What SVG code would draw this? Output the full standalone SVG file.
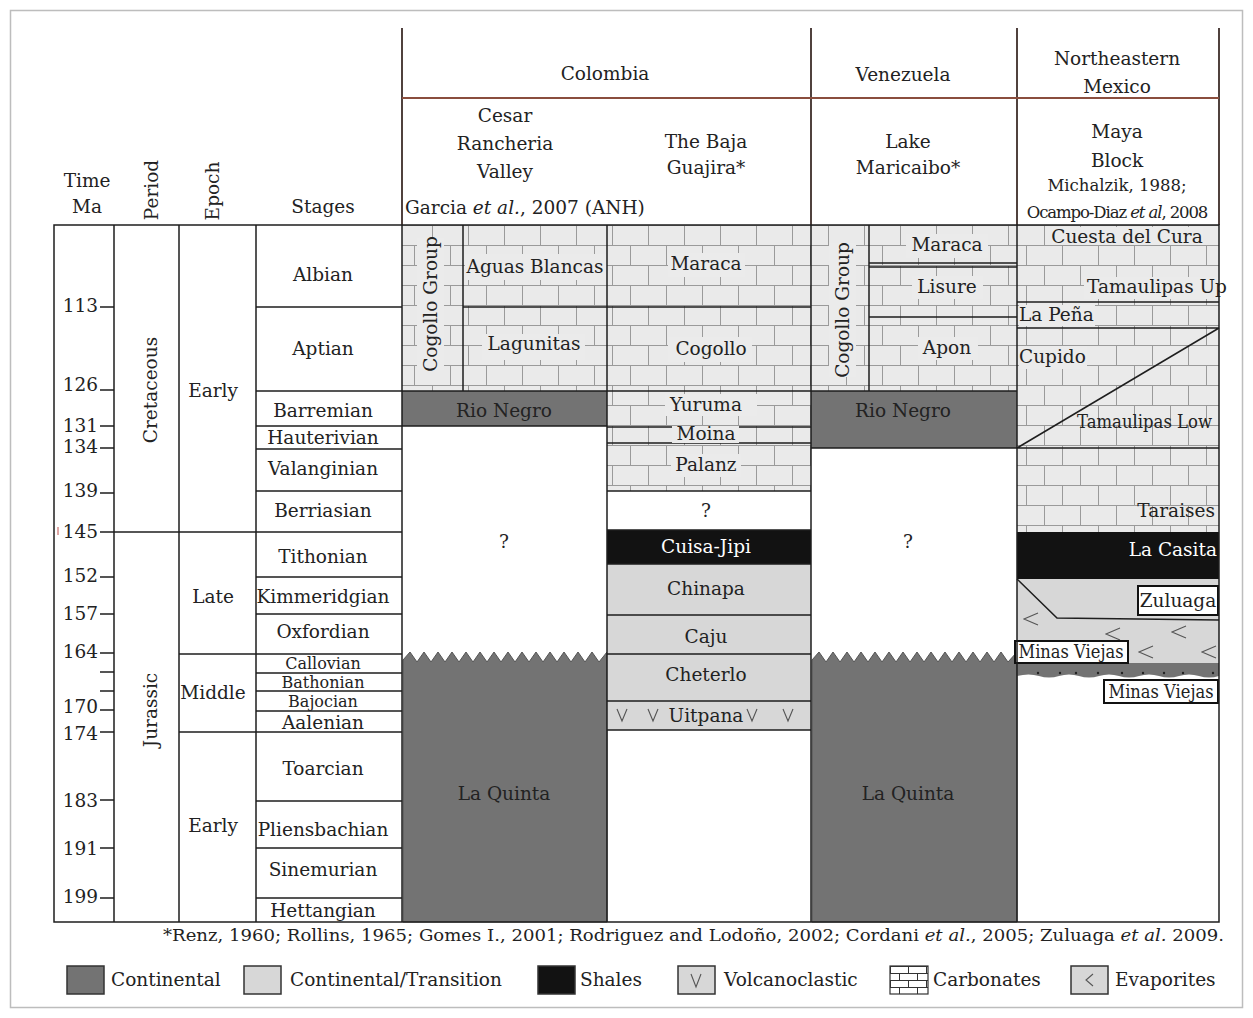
<svg xmlns="http://www.w3.org/2000/svg" width="1253" height="1018" viewBox="0 0 1253 1018">
<style>
text{font-family:"DejaVu Serif","Liberation Serif",serif;font-size:18.5px;fill:#222;text-anchor:middle}
.s{text-anchor:start}
.e{text-anchor:end}
.w{fill:#fff}
.it{font-style:italic}
.sm{font-size:16.5px}
.xs{font-size:16px}
.ln{stroke:#1e1e1e;stroke-width:1.5;fill:none}
.hd{stroke:#3e2e2a;stroke-width:1.8;fill:none}
.hh{stroke:#8a4e3e;stroke-width:2;fill:none}
.cont{fill:#737373}
.trans{fill:#d7d7d7}
.shale{fill:#121212}
.carb{fill:url(#carb)}
.lb{fill:#ebebeb}
.sym{stroke:#555;stroke-width:1.1;fill:none}
.box{fill:#fff;stroke:#111;stroke-width:2}
.lg{stroke:#333;stroke-width:1.5}
</style>
<defs>
<pattern id="carb" patternUnits="userSpaceOnUse" x="0" y="225" width="36" height="40">
<rect width="36" height="40" fill="#eaeaea"/>
<path d="M0 0.5H36M0 20.5H36M0.5 0V20M18.5 20V40" stroke="#9a9a9a" stroke-width="1"/>
</pattern>
<pattern id="carbs" patternUnits="userSpaceOnUse" x="890" y="966" width="18" height="14">
<rect width="18" height="14" fill="#fff"/>
<path d="M0 0.5H18M0 7.5H18M0.5 0V7M9.5 7V14" stroke="#333" stroke-width="1"/>
</pattern>
</defs>
<rect x="10.5" y="10.5" width="1232" height="997" fill="#fff" stroke="#bdbdbd" stroke-width="1.5"/>

<g id="header">
<path class="hd" d="M402 28V225M811 28V225M1017 28V225M1219 28V225"/>
<path class="hh" d="M402 98H1219"/>
<text x="87" y="187">Time</text>
<text x="87" y="213">Ma</text>
<text transform="translate(158,190) rotate(-90)">Period</text>
<text transform="translate(219,191) rotate(-90)">Epoch</text>
<text x="323" y="213">Stages</text>
<text x="605" y="80">Colombia</text>
<text x="903" y="81">Venezuela</text>
<text x="1117" y="65">Northeastern</text>
<text x="1117" y="93">Mexico</text>
<text x="505" y="122">Cesar</text>
<text x="505" y="150">Rancheria</text>
<text x="505" y="178">Valley</text>
<text x="405" y="214" class="s">Garcia <tspan class="it">et al.</tspan>, 2007 (ANH)</text>
<text x="706" y="148">The Baja</text>
<text x="706" y="174">Guajira*</text>
<text x="908" y="148">Lake</text>
<text x="908" y="174">Maricaibo*</text>
<text x="1117" y="138">Maya</text>
<text x="1117" y="167">Block</text>
<text x="1117" y="191" class="sm">Michalzik, 1988;</text>
<text x="1117" y="218" class="sm" style="letter-spacing:-1.1px">Ocampo-Diaz <tspan class="it">et al</tspan>, 2008</text>
</g>

<g id="time-scale">
<path class="ln" d="M100 307H114M100 390H114M100 426H114M100 448H114M100 493H114M100 532H114M100 577H114M100 614H114M100 653H114M100 672H114M100 691H114M100 710H114M100 732H114M100 800H114M100 848H114M100 898H114"/>
<path d="M58 527V535" stroke="#c0504d" stroke-width="1"/>
<text class="e" x="98" y="312">113</text>
<text class="e" x="98" y="391">126</text>
<text class="e" x="98" y="432">131</text>
<text class="e" x="98" y="453">134</text>
<text class="e" x="98" y="497">139</text>
<text class="e" x="98" y="538">145</text>
<text class="e" x="98" y="582">152</text>
<text class="e" x="98" y="620">157</text>
<text class="e" x="98" y="658">164</text>
<text class="e" x="98" y="713">170</text>
<text class="e" x="98" y="740">174</text>
<text class="e" x="98" y="807">183</text>
<text class="e" x="98" y="855">191</text>
<text class="e" x="98" y="903">199</text>
</g>

<g id="period">
<path class="ln" d="M114 532H179"/>
<text transform="translate(157,390) rotate(-90)">Cretaceous</text>
<text transform="translate(157,710) rotate(-90)">Jurassic</text>
</g>

<g id="epoch">
<path class="ln" d="M179 532H256M179 654H256M179 732H256"/>
<text x="213" y="397">Early</text>
<text x="213" y="603">Late</text>
<text x="213" y="699">Middle</text>
<text x="213" y="832">Early</text>
</g>

<g id="stages">
<path class="ln" d="M256 307H402M256 391H402M256 426H402M256 449H402M256 491H402M256 532H402M256 577H402M256 614H402M256 654H402M256 673H402M256 691H402M256 711H402M256 732H402M256 801H402M256 848H402M256 898H402"/>
<text x="323" y="281">Albian</text>
<text x="323" y="355">Aptian</text>
<text x="323" y="417">Barremian</text>
<text x="323" y="444">Hauterivian</text>
<text x="323" y="475">Valanginian</text>
<text x="323" y="517">Berriasian</text>
<text x="323" y="563">Tithonian</text>
<text x="323" y="603">Kimmeridgian</text>
<text x="323" y="638">Oxfordian</text>
<text x="323" y="669" class="xs">Callovian</text>
<text x="323" y="688" class="xs">Bathonian</text>
<text x="323" y="707" class="xs">Bajocian</text>
<text x="323" y="729">Aalenian</text>
<text x="323" y="775">Toarcian</text>
<text x="323" y="836">Pliensbachian</text>
<text x="323" y="876">Sinemurian</text>
<text x="323" y="917">Hettangian</text>
</g>

<g id="cesar-rancheria">
<rect class="carb" x="402" y="225" width="205" height="166"/>
<path class="ln" d="M463 225V391M463 307H607"/>
<rect class="lb" x="417" y="238" width="27" height="132"/>
<text transform="translate(437,304) rotate(-90)">Cogollo Group</text>
<rect class="lb" x="465" y="254" width="142" height="26"/>
<text x="535" y="273">Aguas Blancas</text>
<rect class="lb" x="482" y="334" width="103" height="26"/>
<text x="534" y="350">Lagunitas</text>
<rect class="cont" x="402" y="391" width="205" height="35"/>
<path class="ln" d="M402 391H607M402 426H607"/>
<text x="504" y="417">Rio Negro</text>
<text x="504" y="548">?</text>
<path class="cont" stroke="#555" stroke-width="1" d="M403 660L410 652L417 662L424 652L431 662L438 652L445 662L452 652L459 662L466 652L473 662L480 652L487 662L494 652L501 662L508 652L515 662L522 652L529 662L536 652L543 662L550 652L557 662L564 652L571 662L578 652L585 662L592 652L599 662L607 652V922H403Z"/>
<text x="504" y="800">La Quinta</text>
</g>

<g id="baja-guajira">
<rect class="carb" x="607" y="225" width="204" height="266"/>
<path class="ln" d="M607 307H811M607 391H811M607 427H811M607 443H811M607 491H811"/>
<rect class="lb" x="668" y="253" width="77" height="24"/>
<text x="706" y="270">Maraca</text>
<rect class="lb" x="668" y="337" width="84" height="25"/>
<text x="711" y="355">Cogollo</text>
<rect class="lb" x="665" y="394" width="92" height="22"/>
<text x="706" y="411">Yuruma</text>
<rect class="lb" x="672" y="426" width="67" height="17"/>
<text x="706" y="440">Moina</text>
<rect class="lb" x="671" y="454" width="70" height="23"/>
<text x="706" y="471">Palanz</text>
<text x="706" y="517">?</text>
<rect class="shale" x="607" y="530" width="204" height="34"/>
<text x="706" y="553" class="w">Cuisa-Jipi</text>
<rect class="trans" x="607" y="564" width="204" height="166"/>
<path class="ln" d="M607 530H811M607 564H811M607 615H811M607 654H811M607 701H811M607 730H811"/>
<text x="706" y="595">Chinapa</text>
<text x="706" y="643">Caju</text>
<text x="706" y="681">Cheterlo</text>
<text x="706" y="722">Uitpana</text>
<path class="sym" d="M617 709L622 721L627 709M648 709L653 721L658 709M747 709L752 721L757 709M783 709L788 721L793 709"/>
</g>

<g id="lake-maracaibo">
<rect class="carb" x="811" y="225" width="206" height="166"/>
<path class="ln" d="M869 225V391M869 263H1017M869 267H1017M869 317H1017"/>
<rect class="lb" x="829" y="243" width="27" height="134"/>
<text transform="translate(849,310) rotate(-90)">Cogollo Group</text>
<rect class="lb" x="906" y="234" width="82" height="24"/>
<text x="947" y="251">Maraca</text>
<rect class="lb" x="912" y="276" width="71" height="23"/>
<text x="947" y="293">Lisure</text>
<rect class="lb" x="918" y="337" width="60" height="23"/>
<text x="947" y="354">Apon</text>
<rect class="cont" x="811" y="391" width="206" height="57"/>
<path class="ln" d="M811 391H1017M811 448H1017"/>
<text x="903" y="417">Rio Negro</text>
<text x="908" y="548">?</text>
<path class="cont" stroke="#555" stroke-width="1" d="M812 660L819 652L826 662L833 652L840 662L847 652L854 662L861 652L868 662L875 652L882 662L889 652L896 662L903 652L910 662L917 652L924 662L931 652L938 662L945 652L952 662L959 652L966 662L973 652L980 662L987 652L994 662L1001 652L1008 662L1017 652V922H812Z"/>
<text x="908" y="800">La Quinta</text>
</g>

<g id="maya-block">
<rect class="carb" x="1017" y="225" width="202" height="307"/>
<path class="ln" d="M1017 302H1219M1017 328H1219M1017 448H1219M1017 448L1219 328"/>
<rect class="lb" x="1052" y="227" width="151" height="18"/>
<text x="1127" y="243">Cuesta del Cura</text>
<rect class="lb" x="1084" y="277" width="134" height="22"/>
<text x="1087" y="293" class="s">Tamaulipas Up</text>
<rect class="lb" x="1019" y="305" width="76" height="21"/>
<text x="1019" y="321" class="s">La Peña</text>
<rect class="lb" x="1019" y="346" width="68" height="23"/>
<text x="1019" y="363" class="s">Cupido</text>
<text x="1077" y="428" class="s" textLength="135" lengthAdjust="spacingAndGlyphs">Tamaulipas Low</text>
<text x="1215" y="517" class="e">Taraises</text>
<rect class="shale" x="1017" y="532" width="202" height="47"/>
<text x="1217" y="556" class="e w">La Casita</text>
<rect class="trans" x="1017" y="579" width="202" height="84"/>
<path class="ln" d="M1017 579L1057 618L1219 620"/>
<path class="sym" d="M1038 613L1024 619L1038 625M1120 628L1106 634L1120 640M1186 626L1172 632L1186 638M1153 646L1139 652L1153 658M1216 646L1202 652L1216 658"/>
<path class="cont" d="M1017 663H1219V676Q1209 679 1199 676T1179 676T1159 676T1139 676T1119 676T1099 676T1079 676T1059 676T1039 676T1017 676Z"/>
<g fill="#222">
<circle cx="1038" cy="673" r="1.2"/><circle cx="1060" cy="673" r="1.2"/><circle cx="1076" cy="673" r="1.2"/><circle cx="1098" cy="673" r="1.2"/><circle cx="1122" cy="673" r="1.2"/><circle cx="1143" cy="673" r="1.2"/><circle cx="1164" cy="673" r="1.2"/><circle cx="1183" cy="673" r="1.2"/><circle cx="1213" cy="673" r="1.2"/>
</g>
<rect class="box" x="1138" y="586" width="80" height="29"/>
<text x="1178" y="607">Zuluaga</text>
<rect class="box" x="1015" y="641" width="113" height="22"/>
<text x="1071" y="658" textLength="105" lengthAdjust="spacingAndGlyphs">Minas Viejas</text>
<rect class="box" x="1104" y="680" width="114" height="23"/>
<text x="1161" y="698" textLength="105" lengthAdjust="spacingAndGlyphs">Minas Viejas</text>
</g>

<g id="frame">
<path class="ln" d="M54 225H1219V922H54ZM114 225V922M179 225V922M256 225V922M402 225V922M607 225V922M811 225V922M1017 225V922"/>
</g>

<g id="footnote">
<text x="163" y="941" class="s" style="font-size:17.5px" textLength="1061" lengthAdjust="spacingAndGlyphs">*Renz, 1960; Rollins, 1965; Gomes I., 2001; Rodriguez and Lodoño, 2002; Cordani <tspan class="it">et al.</tspan>, 2005; Zuluaga <tspan class="it">et al.</tspan> 2009.</text>
</g>

<g id="legend">
<rect class="cont lg" x="67" y="966" width="37" height="28"/>
<text x="111" y="986" class="s">Continental</text>
<rect class="trans lg" x="244" y="966" width="37" height="28"/>
<text x="290" y="986" class="s">Continental/Transition</text>
<rect class="shale lg" x="538" y="966" width="37" height="28"/>
<text x="580" y="986" class="s">Shales</text>
<rect class="trans lg" x="678" y="966" width="37" height="28"/>
<path class="sym" d="M691 974L696 987L701 974"/>
<text x="724" y="986" class="s">Volcanoclastic</text>
<rect x="890" y="966" width="38" height="28" fill="url(#carbs)" stroke="#333" stroke-width="1.2"/>
<text x="933" y="986" class="s">Carbonates</text>
<rect class="trans lg" x="1071" y="966" width="37" height="28"/>
<path class="sym" d="M1093 974L1086 980L1093 986"/>
<text x="1115" y="986" class="s">Evaporites</text>
</g>
</svg>
